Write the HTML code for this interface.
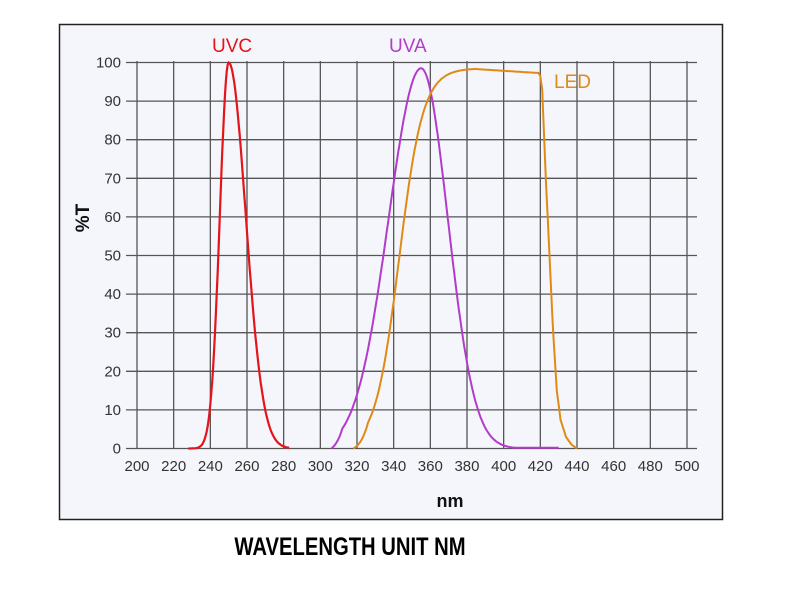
<!DOCTYPE html>
<html><head><style>
body{margin:0;background:#fff;width:800px;height:592px;overflow:hidden;font-family:"Liberation Sans",sans-serif}
</style></head><body>
<svg id="s" width="800" height="592" xmlns="http://www.w3.org/2000/svg" font-family="Liberation Sans, sans-serif">
<rect x="59.5" y="24.5" width="663" height="495" fill="#f5f6fb" stroke="#222" stroke-width="1.5"/>
<g id="grid" stroke="#555" stroke-width="1.3"></g>
<g id="lab" font-size="15" fill="#333"></g>
<text x="212" y="52" font-size="19" fill="#e3141b">UVC</text>
<text x="389" y="52" font-size="19" fill="#b23cc9">UVA</text>
<text x="554" y="88" font-size="19" fill="#e08a16">LED</text>
<text transform="translate(89,218) rotate(-90)" text-anchor="middle" font-size="19" font-weight="bold" fill="#111">%T</text>
<text x="450" y="507" text-anchor="middle" font-size="18" font-weight="bold" fill="#111">nm</text>
<text transform="translate(350,555) scale(0.81,1)" text-anchor="middle" font-size="25" font-weight="bold" fill="#000">WAVELENGTH UNIT NM</text>
<path id="uvc" fill="none" stroke="#e3141b" stroke-width="2.2"/>
<path id="uva" fill="none" stroke="#b23cc9" stroke-width="2"/>
<path id="led" fill="none" stroke="#e08a16" stroke-width="2"/>
</svg>
<script>
var X=function(n){return 137+(n-200)*1.8333},Y=function(v){return 448.5-v*3.86};
var g=document.getElementById('grid'),l=document.getElementById('lab'),h='',t='';
for(var n=200;n<=500;n+=20){h+='<line x1="'+X(n)+'" y1="61" x2="'+X(n)+'" y2="448.5"/>';t+='<text x="'+X(n)+'" y="471" text-anchor="middle">'+n+'</text>';}
for(var v=0;v<=100;v+=10){h+='<line x1="126" y1="'+Y(v)+'" x2="697" y2="'+Y(v)+'"/>';t+='<text x="121" y="'+(Y(v)+5)+'" text-anchor="end">'+v+'</text>';}
g.innerHTML=h;l.innerHTML=t;
function gp(a,b,f){var d='';for(var n=a;n<=b;n+=0.5){d+=(d?'L':'M')+X(n).toFixed(1)+','+Y(f(n)).toFixed(1);}return d;}
function interp(pts,n){for(var i=0;i<pts.length-1;i++){if(n<=pts[i+1][0]){var a=pts[i],b=pts[i+1];return a[1]+(b[1]-a[1])*(n-a[0])/(b[0]-a[0]);}}return 0;}
document.getElementById('uvc').setAttribute('d',gp(228,283,function(n){var s=n<250?4.8:9.3;return 100*Math.exp(-Math.pow((n-250)/s,2)/2);}));
document.getElementById('uva').setAttribute('d',gp(306,430,function(n){var s=n<355?17.7:14.5;var v=98.5*Math.exp(-Math.pow((n-355)/s,2)/2);if(n<312)v*=(n-306)/6;return Math.max(v,0.2);}));
var fall=[[419,97.3],[420,96.5],[421,93],[423,70],[425,50],[427,30],[429,15],[431,7.5],[434,3],[437,1],[440,0]];
document.getElementById('led').setAttribute('d',gp(318,440,function(n){
 if(n<=419){var v=98.5/(1+Math.exp(-(n-343)/6.5));var k=(n-318)/8;if(k<1)v*=k;if(n>385)v=Math.min(v,98.3-(n-385)*0.03);return v;}
 return interp(fall,n);}));
</script>
</body></html>
